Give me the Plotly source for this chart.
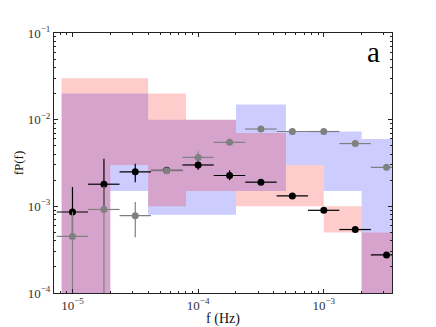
import plotly.graph_objects as go

# ---------------- data ----------------
# frequency bins of the shaded bands (Hz)
bin_edges = [8.2e-6, 2e-5, 4e-5, 8e-5, 2e-4, 5e-4, 1e-3, 2e-3, 4e-3]
# red band (lower / upper), per bin
red_lo = [1e-6, 3e-3, 1e-3, 1.5e-3, 1e-3, 1e-3, 5e-4, 1e-6]
red_hi = [3e-2, 3e-2, 2e-2, 1e-2, 7e-3, 3e-3, 1e-3, 5e-4]
# blue band (lower / upper), per bin
blue_lo = [1e-6, 1.5e-3, 8e-4, 8e-4, 1.5e-3, 3e-3, 1.5e-3, 1e-6]
blue_hi = [2e-2, 2e-2, 1e-2, 1e-2, 1.5e-2, 7.3e-3, 7.3e-3, 6e-3]

# measured points
freq = [1e-5, 1.78e-5, 3.16e-5, 5.62e-5, 1e-4, 1.78e-4, 3.16e-4, 5.62e-4, 1e-3, 1.78e-3, 3.16e-3]
freq_lo = [7.5e-6, 1.33e-5, 2.37e-5, 4.22e-5, 7.5e-5, 1.33e-4, 2.37e-4, 4.22e-4, 7.5e-4, 1.33e-3, 2.37e-3]
freq_hi = [1.33e-5, 2.37e-5, 4.22e-5, 7.5e-5, 1.33e-4, 2.37e-4, 4.22e-4, 7.5e-4, 1.33e-3, 2.37e-3, 4.22e-3]

black_y = [8.6e-4, 1.8e-3, 2.5e-3, 2.6e-3, 3.0e-3, 2.27e-3, 1.9e-3, 1.32e-3, 9.0e-4, 5.4e-4, 2.75e-4]
black_lo = [4.6e-4, 9.3e-4, 1.9e-3, 2.6e-3, 2.65e-3, 2.0e-3, 1.9e-3, 1.32e-3, 9.0e-4, 5.4e-4, 2.75e-4]
black_hi = [1.67e-3, 3.55e-3, 3.1e-3, 2.6e-3, 3.45e-3, 2.6e-3, 1.9e-3, 1.32e-3, 9.0e-4, 5.4e-4, 2.75e-4]

grey_y = [4.5e-4, 9.2e-4, 7.8e-4, 2.58e-3, 3.67e-3, 5.47e-3, 7.8e-3, 7.3e-3, 7.3e-3, 5.3e-3, 2.82e-3]
grey_lo = [1e-6, 1e-6, 4.4e-4, 2.58e-3, 3.3e-3, 5.47e-3, 7.8e-3, 7.3e-3, 7.3e-3, 5.3e-3, 2.82e-3]
grey_hi = [8.6e-4, 1.7e-3, 1.12e-3, 2.58e-3, 4.3e-3, 5.47e-3, 7.8e-3, 7.3e-3, 7.3e-3, 5.3e-3, 2.82e-3]

x_ticks = [1e-5, 1e-4, 1e-3]
x_ticktext = ["10<sup>−5</sup>", "10<sup>−4</sup>", "10<sup>−3</sup>"]
y_ticks = [1e-4, 1e-3, 1e-2, 1e-1]
y_ticktext = ["10<sup>−4</sup>", "10<sup>−3</sup>", "10<sup>−2</sup>", "10<sup>−1</sup>"]

FONT = "Liberation Serif"


def band_polygons(edges, lo, hi):
    xs, ys = [], []
    for i in range(len(lo)):
        x0, x1 = edges[i], edges[i + 1]
        xs += [x0, x1, x1, x0, x0, None]
        ys += [lo[i], lo[i], hi[i], hi[i], lo[i], None]
    return xs, ys


fig = go.Figure()

bx, by = band_polygons(bin_edges, blue_lo, blue_hi)
fig.add_trace(go.Scatter(x=bx, y=by, mode="lines", fill="toself",
                         fillcolor="rgba(0,0,255,0.2)", line=dict(width=0),
                         hoverinfo="skip", showlegend=False))
rx, ry = band_polygons(bin_edges, red_lo, red_hi)
fig.add_trace(go.Scatter(x=rx, y=ry, mode="lines", fill="toself",
                         fillcolor="rgba(255,0,0,0.2)", line=dict(width=0),
                         hoverinfo="skip", showlegend=False))


def add_points(y, lo, hi, color):
    fig.add_trace(go.Scatter(
        x=freq, y=y, mode="markers",
        marker=dict(color=color, size=7, line=dict(width=0)),
        error_x=dict(type="data", symmetric=False,
                     array=[h - f for h, f in zip(freq_hi, freq)],
                     arrayminus=[f - l for l, f in zip(freq_lo, freq)],
                     color=color, thickness=1.2, width=0),
        error_y=dict(type="data", symmetric=False,
                     array=[h - v for h, v in zip(hi, y)],
                     arrayminus=[v - l for l, v in zip(lo, y)],
                     color=color, thickness=1.2, width=0),
        showlegend=False, cliponaxis=True))


add_points(black_y, black_lo, black_hi, "black")
add_points(grey_y, grey_lo, grey_hi, "#808080")

x_minor = [8e-6, 9e-6] + [m * 1e-5 for m in range(2, 10)] + [m * 1e-4 for m in range(2, 10)] + [2e-3, 3e-3]
y_minor = [m * 1e-4 for m in range(2, 10)] + [m * 1e-3 for m in range(2, 10)] + [m * 1e-2 for m in range(2, 10)]

axis_common = dict(showgrid=False, zeroline=False, showline=True, linecolor="#222",
                   linewidth=1, mirror="allticks", ticks="inside", ticklen=4,
                   tickwidth=1, tickcolor="#222",
                   tickfont=dict(family=FONT, size=13, color="#333"))

fig.update_xaxes(type="log", range=[-5.147, -2.457], tickmode="array",
                 tickvals=x_ticks, ticktext=x_ticktext,
                 minor=dict(tickmode="array", tickvals=x_minor, ticks="inside",
                            ticklen=2, tickcolor="#222", showgrid=False),
                 title=dict(text="f (Hz)", font=dict(family=FONT, size=14, color="#111"),
                            standoff=0),
                 **axis_common)
fig.update_yaxes(type="log", range=[-4, -1], tickmode="array",
                 tickvals=y_ticks, ticktext=y_ticktext,
                 minor=dict(tickmode="array", tickvals=y_minor, ticks="inside",
                            ticklen=2, tickcolor="#222", showgrid=False),
                 title=dict(text="fP(f)", font=dict(family=FONT, size=13, color="#111"),
                            standoff=1),
                 **axis_common)

fig.add_annotation(text="a", xref="paper", yref="paper", x=0.946, y=0.927,
                   xanchor="center", yanchor="middle", showarrow=False,
                   font=dict(family=FONT, size=29, color="black"))

# page body adds an 8 px offset, so the figure is sized to fit the 436x327 window
fig.update_layout(width=428, height=319, margin=dict(l=46, r=44, t=25, b=34, autoexpand=False),
                  paper_bgcolor="white", plot_bgcolor="white")

fig.write_html("out.html")
